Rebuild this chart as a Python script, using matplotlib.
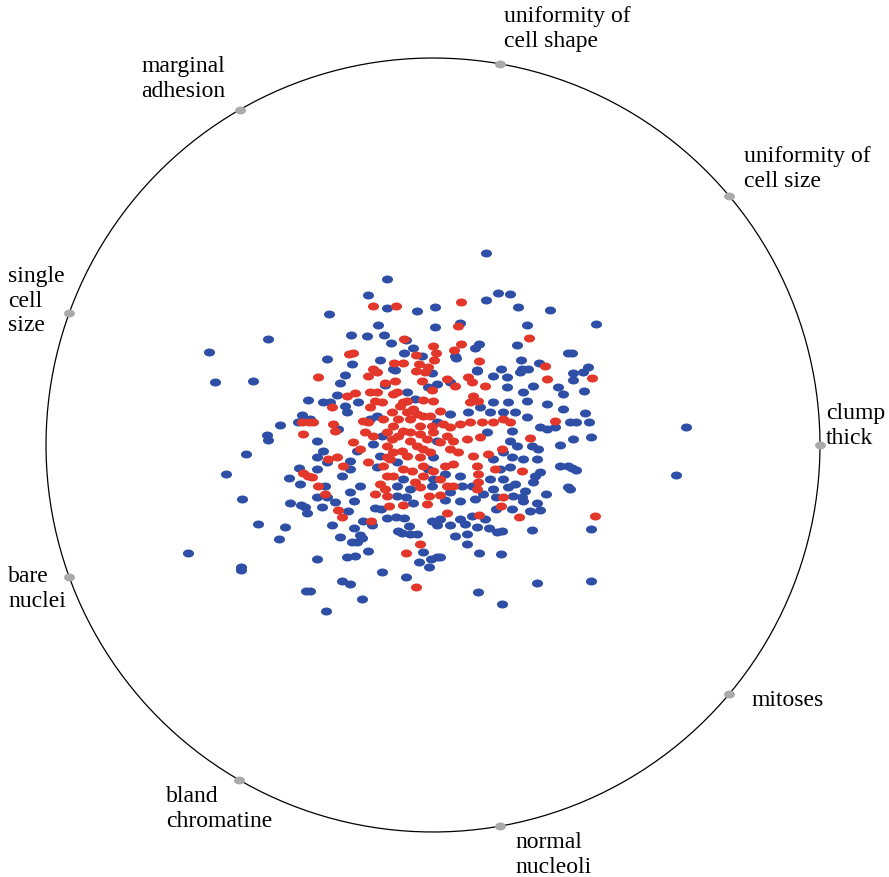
import numpy as np
import matplotlib
matplotlib.use("Agg")
import matplotlib.pyplot as plt
from matplotlib.path import Path
from matplotlib.transforms import Affine2D

# anchor attributes, counter-clockwise starting at 0 degrees
attributes = ["clump\nthick", "uniformity of\ncell size", "uniformity of\ncell shape",
              "marginal\nadhesion", "single\ncell\nsize", "bare\nnuclei",
              "bland\nchromatine", "normal\nnucleoli", "mitoses"]

# projected positions (picture frame: x right, y down)
benign_px = [(486,254),(387,280),(368,296),(498,294),(510,295),(387,309),(329,315),(417,312),(435,308),(486,301),
    (518,308),(550,311),(378,326),(435,328),(460,324),(527,326),(351,336),(367,337),(384,336),(391,344),
    (406,341),(413,349),(327,360),(352,365),(380,361),(404,354),(422,357),(393,370),(479,345),(475,349),
    (517,346),(455,357),(456,359),(521,361),(539,364),(568,354),(501,370),(477,371),(522,370),(596,325),
    (572,354),(588,368),(209,353),(268,340),(215,383),(253,382),(308,401),(302,416),(298,423),(280,426),
    (267,436),(268,441),(246,455),(226,475),(299,469),(289,479),(300,485),(573,374),(583,373),(573,381),
    (584,392),(585,414),(576,423),(589,423),(570,423),(686,428),(573,440),(591,438),(572,469),(576,471),
    (676,476),(570,490),(242,500),(290,504),(301,506),(305,508),(307,514),(258,525),(285,528),(279,540),
    (188,554),(241,568),(241,571),(306,592),(317,498),(327,498),(335,503),(354,502),(397,497),(406,498),
    (322,508),(348,512),(332,526),(363,522),(372,526),(375,509),(381,510),(413,504),(387,519),(396,518),
    (404,519),(354,529),(409,527),(432,522),(437,526),(398,532),(402,534),(410,535),(417,535),(340,538),
    (360,536),(362,539),(352,543),(357,543),(368,552),(423,553),(347,558),(355,557),(317,560),(419,563),
    (431,560),(437,558),(429,568),(382,573),(406,578),(342,582),(350,585),(310,592),(362,600),(326,612),
    (445,501),(460,502),(475,500),(483,495),(496,498),(513,497),(522,498),(523,502),(537,504),(546,495),
    (496,510),(512,510),(530,512),(540,511),(440,520),(472,517),(485,520),(460,520),(465,525),(450,526),
    (477,528),(489,529),(497,533),(502,532),(532,531),(455,537),(467,535),(467,545),(440,558),(479,554),
    (501,555),(537,584),(478,593),(502,605),(591,530),(591,582),
    (345,376),(395,371),(432,374),(340,384),(385,386),(407,393),(428,388),(437,385),(337,396),(358,403),
    (415,400),(323,403),(330,403),(345,407),(347,413),(377,417),(370,420),(310,420),(437,423),(338,430),
    (382,437),(317,442),(373,445),(437,442),(357,452),(323,452),(317,458),(327,463),(380,457),(433,458),
    (350,462),(397,463),(317,470),(350,470),(377,468),(428,470),(342,477),(403,480),(433,480),(325,487),
    (360,487),(397,487),(410,490),(432,487),(350,493),
    (477,372),(493,377),(507,378),(520,373),(528,370),(450,383),(507,388),(523,393),(533,387),(558,388),
    (563,395),(493,403),(508,403),(527,402),(547,405),(480,408),(450,415),(468,413),(490,413),(503,413),
    (515,413),(527,418),(540,428),(547,430),(555,428),(563,410),(512,432),(487,433),(510,442),(517,447),
    (532,447),(538,450),(560,446),(503,453),(493,460),(512,458),(523,460),(500,470),(510,468),(537,460),
    (540,473),(535,477),(560,467),(568,467),(460,477),(490,480),(503,480),(515,485),(533,483),(445,475),
    (462,487),(493,490),(450,493),(525,492),(568,488),(472,487),(508,488)]

malignant_px = [(373,307),(396,307),(404,340),(433,347),(353,354),(349,355),(416,356),(436,354),(434,361),(394,364),
    (403,364),(419,365),(428,368),(373,370),(461,303),(458,327),(529,339),(461,345),(454,351),(479,362),
    (545,367),(302,423),(309,423),(303,435),(303,474),(308,477),(592,379),(595,517),(325,495),(375,495),
    (387,497),(429,497),(338,511),(342,518),(371,522),(389,507),(403,506),(427,505),(420,545),(406,554),
    (416,588),(440,496),(503,498),(501,507),(447,514),(479,516),(519,518),
    (318,378),(368,377),(377,373),(416,372),(425,373),(385,384),(395,382),(397,393),(422,382),(432,391),
    (347,397),(355,394),(370,393),(377,393),(375,402),(382,403),(393,395),(407,402),(403,403),(423,401),
    (433,402),(332,408),(370,408),(400,407),(413,410),(392,413),(407,413),(417,415),(423,417),(430,417),
    (398,420),(410,420),(383,420),(363,422),(368,423),(333,425),(313,423),(432,427),(420,427),(393,427),
    (335,432),(365,433),(373,437),(387,433),(403,432),(410,433),(420,435),(433,433),(392,440),(398,437),
    (427,440),(353,443),(387,447),(410,442),(417,447),(360,450),(393,453),(402,452),(423,450),(430,453),
    (328,460),(337,458),(368,463),(387,458),(390,460),(407,457),(420,458),(343,467),(383,467),(403,470),
    (412,472),(423,467),(433,472),(387,477),(393,477),(415,483),(423,477),(312,478),(318,487),(380,485),
    (385,490),(420,488),
    (447,380),(455,387),(468,378),(472,383),(485,387),(547,380),(473,397),(470,403),(478,402),(440,412),
    (503,420),(510,423),(555,422),(530,439),(443,425),(450,428),(460,425),(470,423),(482,423),(493,423),
    (447,437),(440,443),(453,442),(467,440),(480,438),(450,450),(458,453),(473,457),(488,455),(502,450),
    (453,465),(445,467),(477,467),(495,470),(522,472),(440,480),(478,475),(478,483),(447,487),(453,487),
    (477,490)]

W, H = 889, 878
cx, cy, R = 433.0, 446.0, 387.0   # circle centre / radius in the picture


def to_unit(pts):
    a = np.array(pts, dtype=float)
    return (a[:, 0] - cx) / R, (cy - a[:, 1]) / R


fig = plt.figure(figsize=(W / 100, H / 100), dpi=100)
ax = fig.add_axes([0, 0, 1, 1])
ax.set_xlim(-cx / R, (W - cx) / R)
ax.set_ylim((cy - H) / R, cy / R)
ax.axis("off")

ell = Path.unit_circle().transformed(Affine2D().scale(1.0, 0.72))

t = np.linspace(0, 2 * np.pi, 400)
ax.plot(np.cos(t), np.sin(t), color="black", lw=0.9, zorder=1)

bx, by = to_unit(benign_px)
mx, my = to_unit(malignant_px)
ax.scatter(bx, by, s=64, marker=ell, color="#2e4fa5", linewidths=0, zorder=2)
ax.scatter(mx, my, s=64, marker=ell, color="#e2372a", linewidths=0, zorder=3)

ang = np.deg2rad(np.arange(len(attributes)) * 40)
ax.scatter(np.cos(ang), np.sin(ang), s=62, marker=ell, color="#aaaaaa", linewidths=0, zorder=4)

# label placement (picture px: left x, top y)
label_pos = [(826, 403), (744, 146), (504, 6), (141, 56), (8, 266), (8, 566),
             (166, 786), (515, 832), (751, 690)]
for lab, (lx, ly) in zip(attributes, label_pos):
    ax.text((lx - cx) / R, (cy - ly) / R, lab, ha="left", va="top",
            family="Liberation Serif", fontsize=17, linespacing=1.22)

fig.savefig("out.png", dpi=100)
